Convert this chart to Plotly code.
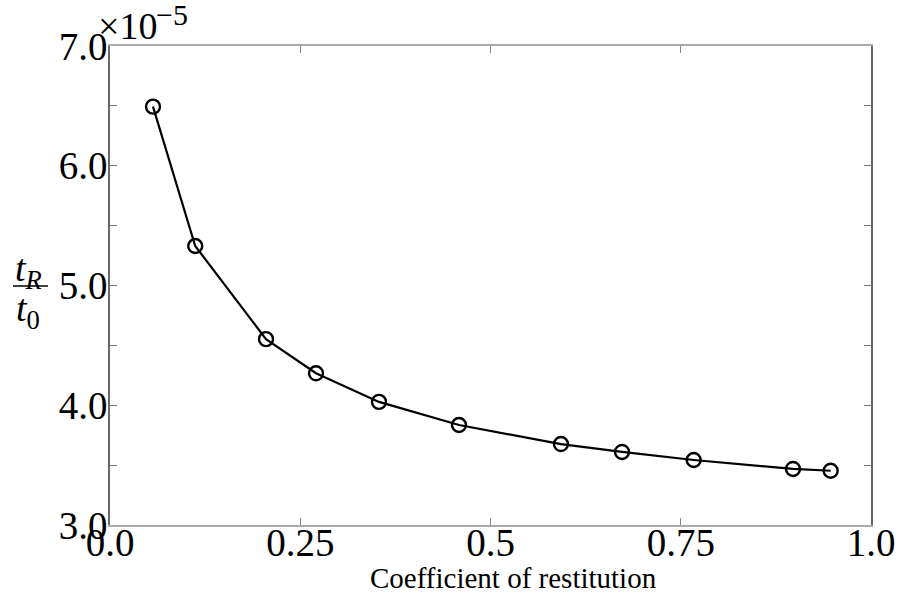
import plotly.graph_objects as go

# Data
restitution = [0.0565, 0.112, 0.205, 0.2707, 0.3535, 0.4586, 0.5926, 0.6728, 0.767, 0.8975, 0.947]
ratio_e5 = [6.494, 5.33, 4.552, 4.267, 4.028, 3.835, 3.676, 3.610, 3.543, 3.468, 3.453]

x_tickvals = [0.0, 0.25, 0.5, 0.75, 1.0]
x_ticktext = ["0.0", "0.25", "0.5", "0.75", "1.0"]
y_tickvals = [3.0, 3.5, 4.0, 4.5, 5.0, 5.5, 6.0, 6.5, 7.0]
y_ticktext = ["3.0", "", "4.0", "", "5.0", "", "6.0", "", "7.0"]

FONT = "Liberation Serif"
L, R, T, B = 110, 28, 46, 81
W, H = 899, 606
PW, PH = W - L - R, H - T - B


def px_x(x):
    return (x - L) / PW


def px_y(y):
    return (H - B - y) / PH


fig = go.Figure()
fig.add_trace(go.Scatter(
    x=restitution, y=ratio_e5, mode="lines+markers",
    line=dict(color="black", width=2.2),
    marker=dict(symbol="circle-open", size=14, color="black", line=dict(width=2.4, color="black")),
    showlegend=False,
))

fig.update_layout(
    template="none",
    width=W, height=H,
    margin=dict(l=L, r=R, t=T, b=B, autoexpand=False),
    paper_bgcolor="white", plot_bgcolor="white",
    font=dict(family=FONT, color="black", size=39),
)
fig.update_xaxes(
    range=[0, 1], tickvals=x_tickvals, ticktext=x_ticktext,
    ticks="inside", ticklen=7, tickcolor="#888", tickwidth=1,
    showline=True, linecolor="#aaa", linewidth=2, mirror="ticks",
    showgrid=False, zeroline=False, tickfont=dict(size=39, family=FONT),
    ticklabelstandoff=-18, automargin=False,
)
fig.update_yaxes(
    range=[3, 7], tickvals=y_tickvals, ticktext=y_ticktext,
    ticks="inside", ticklen=7, tickcolor="#777", tickwidth=1,
    showline=True, linecolor="#666", linewidth=1.5, mirror="ticks",
    showgrid=False, zeroline=False, tickfont=dict(size=39, family=FONT),
    ticklabelstandoff=-7, automargin=False,
)

# x-axis title
fig.add_annotation(
    text="Coefficient of restitution", xref="paper", yref="paper",
    x=px_x(513), y=px_y(578), xanchor="center", yanchor="middle", showarrow=False,
    font=dict(size=29, family=FONT),
)
# exponent label
fig.add_annotation(
    text="×10", xref="paper", yref="paper",
    x=px_x(96), y=px_y(26), xanchor="left", yanchor="middle", showarrow=False,
    font=dict(size=38, family=FONT),
)
fig.add_annotation(
    text="−5", xref="paper", yref="paper",
    x=px_x(154), y=px_y(14), xanchor="left", yanchor="middle", showarrow=False,
    font=dict(size=30, family=FONT),
)
# y-axis label as a fraction
fig.add_annotation(
    text="<i>t</i><sub><i>R</i></sub>", xref="paper", yref="paper",
    x=px_x(28), y=px_y(271), xanchor="center", yanchor="middle", showarrow=False,
    font=dict(size=38, family=FONT),
)
fig.add_annotation(
    text="<i>t</i><sub>0</sub>", xref="paper", yref="paper",
    x=px_x(28), y=px_y(311), xanchor="center", yanchor="middle", showarrow=False,
    font=dict(size=38, family=FONT),
)
fig.add_shape(
    type="line", xref="paper", yref="paper",
    x0=px_x(13), x1=px_x(48), y0=px_y(286), y1=px_y(286),
    line=dict(color="black", width=1.5),
)

fig.write_html("out.html")
